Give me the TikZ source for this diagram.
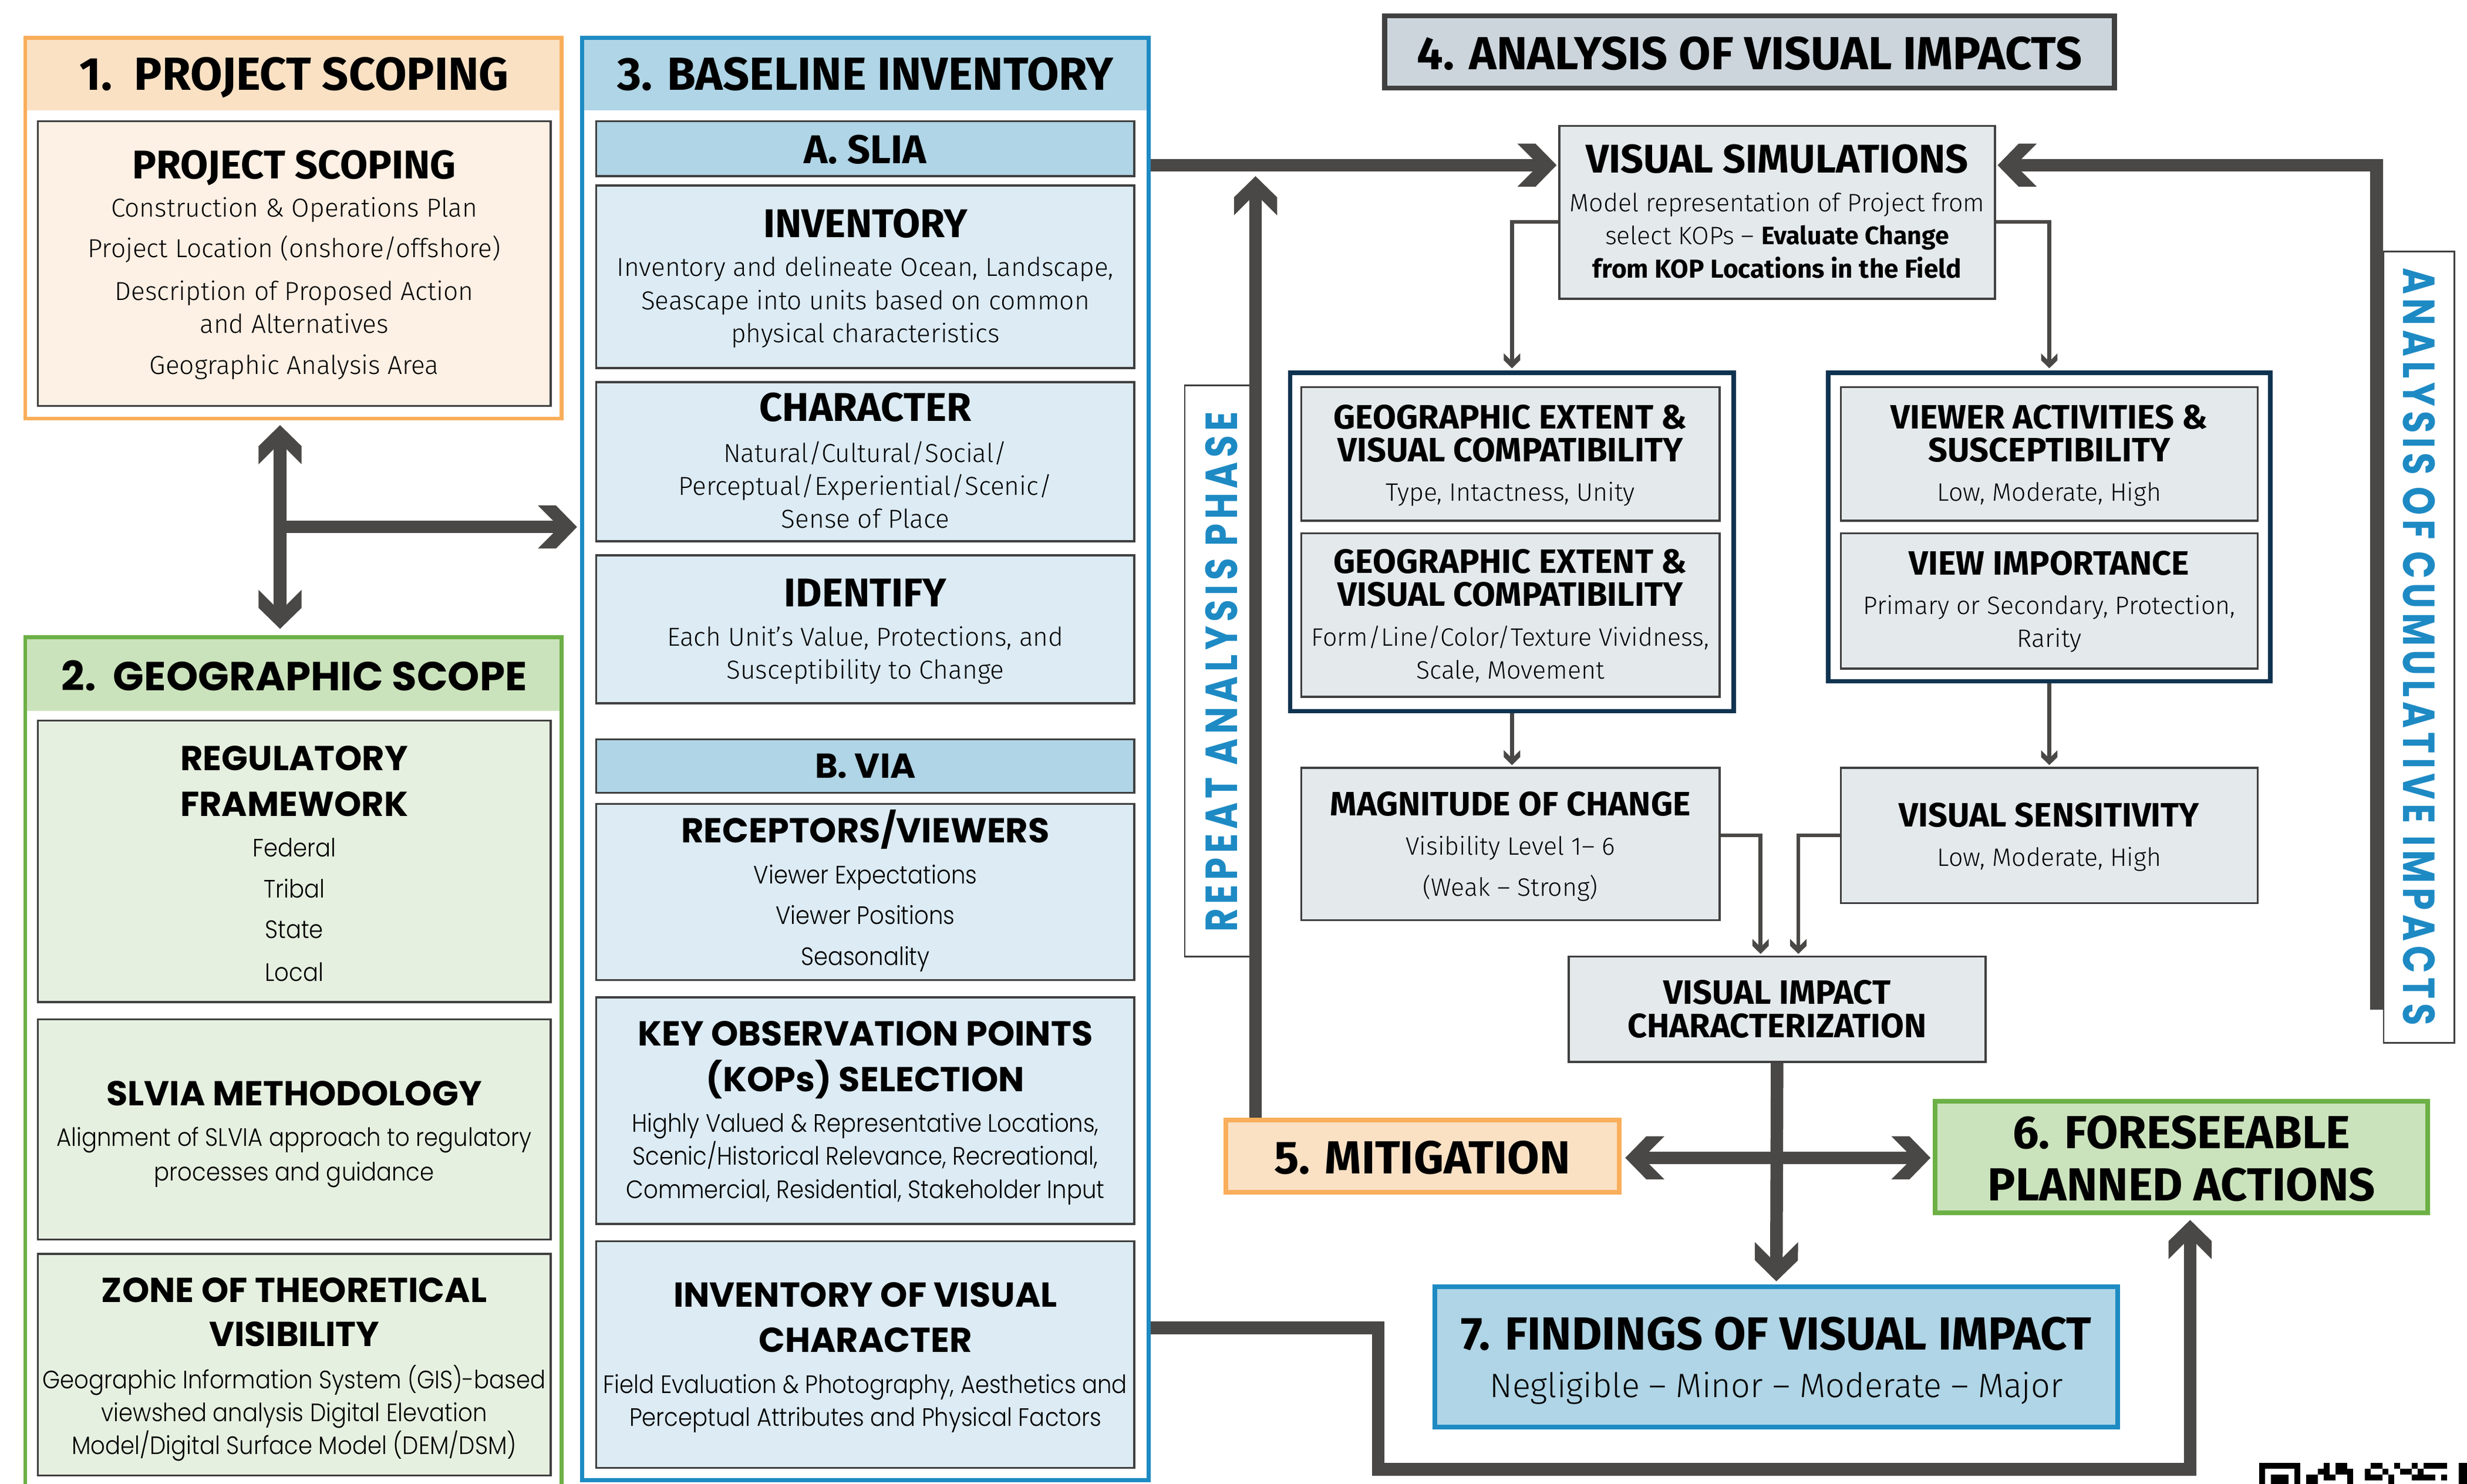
\documentclass[tikz,border=0pt]{standalone}
\usepackage{fontspec}
\usetikzlibrary{arrows.meta}
\newfontfamily\fB{Fira Sans Bold}
\newfontfamily\fL{Fira Sans Light}
\newfontfamily\pB{Poppins Bold}
\newfontfamily\pL{Poppins Light}[FakeStretch=0.9]
\newfontfamily\pLab{Poppins Bold}[FakeStretch=0.8,LetterSpace=10]

\definecolor{lineC}{HTML}{4A4846}
\definecolor{oBrd}{HTML}{F9AE5B}
\definecolor{oHdr}{HTML}{FAE1C4}
\definecolor{oIn}{HTML}{FDF0E4}
\definecolor{gBrd}{HTML}{6DB046}
\definecolor{gHdr}{HTML}{CBE3BC}
\definecolor{gIn}{HTML}{E6F0E0}
\definecolor{bBrd}{HTML}{1E8BC3}
\definecolor{bHdr}{HTML}{AFD5E6}
\definecolor{bIn}{HTML}{DCEBF4}
\definecolor{aIn}{HTML}{E4E9EC}
\definecolor{hFour}{HTML}{CCD5DC}
\definecolor{navy}{HTML}{0D3350}
\definecolor{grayB}{HTML}{404040}
\definecolor{labC}{HTML}{1E8AC4}

\pgfdeclarearrow{
  name = BigChev,
  setup code = {
    \pgfarrowssettipend{0pt}
    \pgfarrowssetlineend{-14pt}
    \pgfarrowssetbackend{-24.9pt}
    \pgfarrowsupperhullpoint{0pt}{0pt}
    \pgfarrowsupperhullpoint{-24.9pt}{13.7pt}
  },
  drawing code = {
    \pgfpathmoveto{\pgfpointorigin}
    \pgfpathlineto{\pgfpoint{-13.4pt}{13.7pt}}
    \pgfpathlineto{\pgfpoint{-24.9pt}{13.7pt}}
    \pgfpathlineto{\pgfpoint{-15.3pt}{4.1pt}}
    \pgfpathlineto{\pgfpoint{-15.3pt}{-4.1pt}}
    \pgfpathlineto{\pgfpoint{-24.9pt}{-13.7pt}}
    \pgfpathlineto{\pgfpoint{-13.4pt}{-13.7pt}}
    \pgfpathclose
    \pgfusepathqfill
  }
}
\pgfdeclarearrow{
  name = SmallChev,
  setup code = {
    \pgfarrowssettipend{0pt}
    \pgfarrowssetlineend{-5pt}
    \pgfarrowssetbackend{-9.5pt}
    \pgfarrowsupperhullpoint{0pt}{0pt}
    \pgfarrowsupperhullpoint{-9.5pt}{5.2pt}
  },
  drawing code = {
    \pgfpathmoveto{\pgfpointorigin}
    \pgfpathlineto{\pgfpoint{-5.1pt}{5.2pt}}
    \pgfpathlineto{\pgfpoint{-9.5pt}{5.2pt}}
    \pgfpathlineto{\pgfpoint{-5.6pt}{1.3pt}}
    \pgfpathlineto{\pgfpoint{-5.6pt}{-1.3pt}}
    \pgfpathlineto{\pgfpoint{-9.5pt}{-5.2pt}}
    \pgfpathlineto{\pgfpoint{-5.1pt}{-5.2pt}}
    \pgfpathclose
    \pgfusepathqfill
  }
}

\newcommand\mkbox[6]{\node[#1, inner sep=0pt, minimum width={#5-#3}, minimum height={#6-#4}] (#2) at ({(#3+#5)/2},{(#4+#6)/2}) {};}
\newcommand\putt[5]{\node[#1] (#2) at (#3,#4) {#5};}

\tikzset{
  tH/.style={inner sep=0pt, font=\fB\fontsize{29.5}{32}\selectfont, text height=20.3pt, text depth=0pt},
  tT/.style={inner sep=0pt, font=\fB\fontsize{25.5}{28}\selectfont, text height=17.6pt, text depth=0pt},
  tA/.style={inner sep=0pt, font=\fB\fontsize{21.5}{24}\selectfont, text height=14.8pt, text depth=0pt},
  bC/.style={inner sep=0pt, font=\fL\fontsize{16.5}{20}\selectfont, text height=11.4pt, text depth=0pt},
  bA/.style={inner sep=0pt, font=\fL\fontsize{16}{19}\selectfont, text height=11pt, text depth=0pt},
  bAb/.style={inner sep=0pt, font=\fB\fontsize{16.5}{19}\selectfont, text height=11.4pt, text depth=0pt},
  bF/.style={inner sep=0pt, font=\fL\fontsize{21.5}{24}\selectfont, text height=14.8pt, text depth=0pt},
  pH/.style={inner sep=0pt, font=\pB\fontsize{25.8}{28}\selectfont, text height=18.1pt, text depth=0pt},
  pT/.style={inner sep=0pt, font=\pB\fontsize{22}{24}\selectfont, text height=15.4pt, text depth=0pt},
  pBd/.style={inner sep=0pt, font=\pL\fontsize{16}{18}\selectfont, text height=11.2pt, text depth=0pt},
  lab/.style={inner sep=0pt, font=\pLab\fontsize{28.5}{30}\selectfont, text height=20pt, text depth=0pt, text=labC},
  inO/.style={fill=oIn, draw=grayB, line width=1.3pt},
  inG/.style={fill=gIn, draw=grayB, line width=1.3pt},
  inB/.style={fill=bIn, draw=grayB, line width=1.3pt},
  barB/.style={fill=bHdr, draw=grayB, line width=1.3pt},
  inA/.style={fill=aIn, draw=grayB, line width=1.3pt},
  grp/.style={fill=white, draw=navy, line width=2.8pt},
  labbox/.style={fill=white, draw=grayB, line width=1pt},
  bigln/.style={draw=lineC, line width=8pt, line join=miter},
  thinln/.style={draw=lineC, line width=2.5pt, line join=miter},
}

\begin{document}
\begin{tikzpicture}[x=1pt,y=-1pt]
\useasboundingbox (0,0) rectangle (1568,943);
\fill[white] (0,0) rectangle (1568,943);

% ---------- Box 1 ----------
\mkbox{fill=oHdr}{b1h}{16}{24}{357}{70}
\mkbox{draw=oBrd, line width=2.5pt}{b1}{16}{24}{357}{266}
\mkbox{inO}{ps}{24}{77}{350}{258}
\putt{tH}{t1}{187}{47}{1.\ \ PROJECT SCOPING}
\putt{tT}{t1a}{187}{105}{PROJECT SCOPING}
\putt{bC}{t1b}{187}{132}{Construction \& Operations Plan}
\putt{bC}{t1c}{187}{158}{Project Location (onshore/offshore)}
\putt{bC}{t1d}{187}{185}{Description of Proposed Action}
\putt{bC}{t1e}{187}{206}{and Alternatives}
\putt{bC}{t1f}{187}{232}{Geographic Analysis Area}

% ---------- Box 2 ----------
\mkbox{fill=gHdr}{b2h}{16}{405}{357}{452}
\mkbox{draw=gBrd, line width=2.5pt}{b2}{16}{405}{357}{960}
\mkbox{inG}{rf}{24}{458}{350}{637}
\mkbox{inG}{sm}{24}{648}{350}{788}
\mkbox{inG}{ztv}{24}{797}{350}{938}
\putt{pH}{t2}{187}{430}{2.\ \ GEOGRAPHIC SCOPE}
\putt{pT}{t2a}{187}{482}{REGULATORY}
\putt{pT}{t2b}{187}{511}{FRAMEWORK}
\putt{pBd}{t2c}{187}{539}{Federal}
\putt{pBd}{t2d}{187}{565}{Tribal}
\putt{pBd}{t2e}{187}{591}{State}
\putt{pBd}{t2f}{187}{618}{Local}
\putt{pT}{t2g}{187}{695}{SLVIA METHODOLOGY}
\putt{pBd}{t2h}{187}{723}{Alignment of SLVIA approach to regulatory}
\putt{pBd}{t2i}{187}{745}{processes and guidance}
\putt{pT}{t2j}{187}{820}{ZONE OF THEORETICAL}
\putt{pT}{t2k}{187}{848}{VISIBILITY}
\putt{pBd}{t2l}{187}{877}{Geographic Information System (GIS)-based}
\putt{pBd}{t2m}{187}{898}{viewshed analysis Digital Elevation}
\putt{pBd}{t2n}{187}{919}{Model/Digital Surface Model (DEM/DSM)}

% ---------- Box 3 ----------
\mkbox{fill=bHdr}{b3h}{370}{24}{730}{70}
\mkbox{draw=bBrd, line width=2.5pt}{b3}{370}{24}{730}{941}
\mkbox{barB}{slia}{379}{77}{721}{112}
\mkbox{inB}{inv}{379}{118}{721}{234}
\mkbox{inB}{chr}{379}{243}{721}{344}
\mkbox{inB}{idf}{379}{353}{721}{447}
\mkbox{barB}{via}{379}{470}{721}{504}
\mkbox{inB}{rec}{379}{511}{721}{623}
\mkbox{inB}{kop}{379}{634}{721}{778}
\mkbox{inB}{ivc}{379}{789}{721}{933}
\putt{tH}{t3}{550}{47}{3. BASELINE INVENTORY}
\putt{tT}{t3a}{550}{95}{A. SLIA}
\putt{tT}{t3b}{550}{142}{INVENTORY}
\putt{bC}{t3c}{550}{170}{Inventory and delineate Ocean, Landscape,}
\putt{bC}{t3d}{550}{191}{Seascape into units based on common}
\putt{bC}{t3e}{550}{212}{physical characteristics}
\putt{tT}{t3f}{550}{259}{CHARACTER}
\putt{bC}{t3g}{550}{288}{Natural/Cultural/Social/}
\putt{bC}{t3h}{550}{309}{Perceptual/Experiential/Scenic/}
\putt{bC}{t3i}{550}{330}{Sense of Place}
\putt{tT}{t3j}{550}{377}{IDENTIFY}
\putt{bC}{t3k}{550}{405}{Each Unit’s Value, Protections, and}
\putt{bC}{t3l}{550}{426}{Susceptibility to Change}
\putt{pT}{t3m}{550}{487}{B. VIA}
\putt{pT}{t3n}{550}{528}{RECEPTORS/VIEWERS}
\putt{pBd}{t3o}{550}{556}{Viewer Expectations}
\putt{pBd}{t3p}{550}{582}{Viewer Positions}
\putt{pBd}{t3q}{550}{608}{Seasonality}
\putt{pT}{t3r}{550}{657}{KEY OBSERVATION POINTS}
\putt{pT}{t3s}{550}{686}{(KOPs) SELECTION}
\putt{pBd}{t3t}{550}{714}{Highly Valued \& Representative Locations,}
\putt{pBd}{t3u}{550}{735}{Scenic/Historical Relevance, Recreational,}
\putt{pBd}{t3v}{550}{756}{Commercial, Residential, Stakeholder Input}
\putt{pT}{t3w}{550}{823}{INVENTORY OF VISUAL}
\putt{pT}{t3x}{550}{852}{CHARACTER}
\putt{pBd}{t3y}{550}{880}{Field Evaluation \& Photography, Aesthetics and}
\putt{pBd}{t3z}{550}{901}{Perceptual Attributes and Physical Factors}

% ---------- Analysis ----------
\mkbox{fill=hFour, draw=grayB, line width=3.2pt}{h4}{880}{10}{1344}{56}
\putt{tH}{t4}{1112}{34}{4. ANALYSIS OF VISUAL IMPACTS}

\mkbox{inA}{vs}{991}{80}{1268}{190}
\putt{tT}{t4a}{1129.5}{101}{VISUAL SIMULATIONS}
\putt{bA}{t4b}{1129.5}{129}{Model representation of Project from}
\putt{bA}{t4c}{1129.5}{150}{select KOPs – {\fB Evaluate Change}}
\putt{bAb}{t4d}{1129.5}{171}{from KOP Locations in the Field}

\mkbox{grp}{grpL}{820}{237}{1102}{452}
\mkbox{inA}{ge1}{827}{246}{1093}{331}
\mkbox{inA}{ge2}{827}{339}{1093}{443}
\putt{tA}{t4e}{960}{265}{GEOGRAPHIC EXTENT \&}
\putt{tA}{t4f}{960}{286}{VISUAL COMPATIBILITY}
\putt{bA}{t4g}{960}{313}{Type, Intactness, Unity}
\putt{tA}{t4h}{960}{357}{GEOGRAPHIC EXTENT \&}
\putt{tA}{t4i}{960}{378}{VISUAL COMPATIBILITY}
\putt{bA}{t4j}{960}{405}{Form/Line/Color/Texture Vividness,}
\putt{bA}{t4k}{960}{426}{Scale, Movement}

\mkbox{grp}{grpR}{1162}{237}{1443}{433}
\mkbox{inA}{va}{1170}{246}{1435}{331}
\mkbox{inA}{vi}{1170}{339}{1435}{425}
\putt{tA}{t4l}{1302.5}{265}{VIEWER ACTIVITIES \&}
\putt{tA}{t4m}{1302.5}{286}{SUSCEPTIBILITY}
\putt{bA}{t4n}{1302.5}{313}{Low, Moderate, High}
\putt{tA}{t4o}{1302.5}{358}{VIEW IMPORTANCE}
\putt{bA}{t4p}{1302.5}{385}{Primary or Secondary, Protection,}
\putt{bA}{t4q}{1302.5}{406}{Rarity}

\mkbox{inA}{moc}{827}{488}{1093}{585}
\putt{tA}{t4r}{960}{511}{MAGNITUDE OF CHANGE}
\putt{bA}{t4s}{960}{538}{Visibility Level 1– 6}
\putt{bA}{t4t}{960}{564}{(Weak – Strong)}
\mkbox{inA}{vsen}{1170}{488}{1435}{574}
\putt{tA}{t4u}{1302.5}{518}{VISUAL SENSITIVITY}
\putt{bA}{t4v}{1302.5}{545}{Low, Moderate, High}
\mkbox{inA}{vic}{997}{608}{1262}{675}
\putt{tA}{t4w}{1129.5}{631}{VISUAL IMPACT}
\putt{tA}{t4x}{1129.5}{652}{CHARACTERIZATION}

\mkbox{fill=oHdr, draw=oBrd, line width=3pt}{mit}{779}{712}{1029}{758}
\putt{tH}{t5}{904}{736}{5. MITIGATION}
\mkbox{fill=gHdr, draw=gBrd, line width=3pt}{f6}{1230}{700}{1543}{771}
\putt{tH}{t6a}{1386.5}{720}{6. FORESEEABLE}
\putt{tH}{t6b}{1386.5}{753}{PLANNED ACTIONS}
\mkbox{fill=bHdr, draw=bBrd, line width=3pt}{f7}{912}{818}{1346}{907}
\putt{tH}{t7a}{1129}{848}{7. FINDINGS OF VISUAL IMPACT}
\putt{bF}{t7b}{1129}{881}{Negligible – Minor – Moderate – Major}

% ---------- side labels ----------
\mkbox{labbox}{repbox}{753}{245}{798}{608}
\node[lab, rotate=90] (rept) at (776.5,427) {REPEAT ANALYSIS PHASE};
\mkbox{labbox}{cumbox}{1515}{160}{1560}{663}
\node[lab, rotate=-90] (cumt) at (1537.5,411) {ANALYSIS OF CUMULATIVE IMPACTS};

% ---------- thick connectors ----------
\coordinate (j1) at (178,335);
\draw[bigln, {BigChev}-{BigChev}, shorten <=3pt, shorten >=4pt] (b1.south -| j1) -- (b2.north -| j1);
\draw[bigln, -{BigChev}, shorten >=2pt] (j1) -- (j1 -| b3.west);
\coordinate (sl) at (750,105);
\draw[bigln, -{BigChev}, shorten >=1pt] (b3.east |- sl) -- (vs.west |- sl);
\coordinate (repTop) at (798,112);
\draw[bigln, -{BigChev}] (mit.north -| repTop) -- (repTop);
\coordinate (cumBot) at (1510.5,642);
\draw[bigln, -{BigChev}, shorten >=1pt] (cumBot) |- (vs.east |- sl);
\draw[bigln, -{BigChev}, shorten >=2pt] (vic.south) -- (f7.north);
\coordinate (cr) at (1100,736);
\draw[bigln, {BigChev}-{BigChev}, shorten <=2.5pt, shorten >=1.5pt] (mit.east |- cr) -- (f6.west |- cr);
\coordinate (bp1) at (876,844);
\coordinate (bp2) at (876,934);
\coordinate (bp3) at (1392,934);
\draw[bigln, -{BigChev}, shorten >=3pt] (b3.east |- bp1) -- (bp1) -- (bp2) -- (bp3) -- (f6.south -| bp3);

% ---------- thin connectors ----------
\coordinate (vsl) at (991,141);
\draw[thinln, -{SmallChev}, shorten >=1.5pt] (vs.west |- vsl) -| (grpL.north);
\draw[thinln, -{SmallChev}, shorten >=1.5pt] (vs.east |- vsl) -| (grpR.north);
\draw[thinln, -{SmallChev}, shorten >=1pt] (grpL.south) -- (grpL.south |- moc.north);
\draw[thinln, -{SmallChev}, shorten >=1pt] (grpR.south) -- (grpR.south |- vsen.north);
\coordinate (m1) at (1119,531);
\coordinate (m2) at (1143,531);
\draw[thinln, -{SmallChev}, shorten >=1pt] (moc.east |- m1) -- (m1) -- (m1 |- vic.north);
\draw[thinln, -{SmallChev}, shorten >=1pt] (vsen.west |- m2) -- (m2) -- (m2 |- vic.north);

% ---------- QR fragment ----------
\begin{scope}[shift={(1436,930)}, x=3.73pt, y=-3.73pt]
  \fill[black] (0,0) rectangle (7,4);
  \fill[white] (1,1) rectangle (6,4);
  \fill[black] (2,2) rectangle (5,4);
  \fill[black] (11,0) rectangle (12,1);
  \fill[black] (13,0) rectangle (15,1);
  \fill[black] (19,0) rectangle (21,1);
  \fill[black] (23,0) rectangle (24,1);
  \fill[black] (26,0) rectangle (27,1);
  \fill[black] (28,0) rectangle (32,1);
  \fill[black] (34,0) rectangle (36,4);
  \fill[black] (10,1) rectangle (16,2);
  \fill[white] (12,1) rectangle (13,2);
  \fill[black] (18,1) rectangle (19,2);
  \fill[black] (21,1) rectangle (22,2);
  \fill[black] (24,1) rectangle (26,2);
  \fill[black] (27,1) rectangle (28,2);
  \fill[black] (8,2) rectangle (10,4);
  \fill[black] (11,2) rectangle (13,3);
  \fill[black] (15,2) rectangle (16,4);
  \fill[black] (18,2) rectangle (21,3);
  \fill[black] (22,2) rectangle (23,4);
  \fill[black] (26,2) rectangle (30,3);
  \fill[black] (31,2) rectangle (32,3);
\end{scope}
\end{tikzpicture}
\end{document}
